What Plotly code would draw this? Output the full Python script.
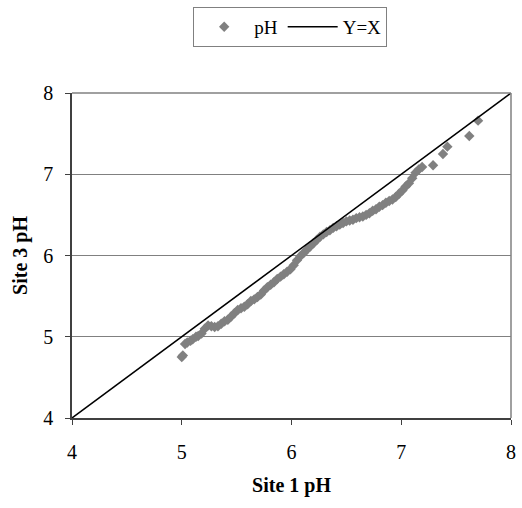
import plotly.graph_objects as go

site1_ph = [5.00, 5.01, 5.03, 5.05, 5.08, 5.10, 5.13, 5.15, 5.18, 5.21, 5.24, 5.27, 5.30, 5.33, 5.36,
            5.39, 5.42, 5.45, 5.48, 5.51, 5.54, 5.57, 5.60, 5.63, 5.66, 5.69, 5.72, 5.75, 5.78, 5.81,
            5.84, 5.87, 5.90, 5.93, 5.96, 5.99, 6.02, 6.05, 6.08, 6.11, 6.14, 6.17, 6.20, 6.23, 6.26,
            6.29, 6.32, 6.35, 6.38, 6.41, 6.44, 6.47, 6.50, 6.53, 6.56, 6.59, 6.62, 6.65, 6.68, 6.71,
            6.74, 6.77, 6.80, 6.83, 6.86, 6.89, 6.92, 6.95, 6.98, 7.01, 7.04, 7.07, 7.10, 7.13, 7.16,
            7.19, 7.29, 7.38, 7.42, 7.62, 7.70]
site3_ph = [4.75, 4.77, 4.91, 4.93, 4.95, 4.97, 5.00, 5.01, 5.04, 5.10, 5.14, 5.13, 5.12, 5.13, 5.16,
            5.19, 5.21, 5.25, 5.29, 5.33, 5.35, 5.37, 5.40, 5.44, 5.46, 5.49, 5.52, 5.57, 5.61, 5.64,
            5.67, 5.71, 5.74, 5.77, 5.80, 5.83, 5.88, 5.94, 5.99, 6.03, 6.07, 6.11, 6.15, 6.19, 6.23,
            6.26, 6.29, 6.31, 6.34, 6.36, 6.38, 6.40, 6.42, 6.43, 6.44, 6.46, 6.47, 6.48, 6.50, 6.52,
            6.55, 6.57, 6.60, 6.62, 6.65, 6.67, 6.69, 6.72, 6.76, 6.80, 6.85, 6.89, 6.95, 7.02, 7.06,
            7.09, 7.11, 7.25, 7.34, 7.47, 7.66]
line_x = [4, 8]
line_y = [4, 8]
ticks = [4, 5, 6, 7, 8]

FONT = "Liberation Serif"

fig = go.Figure()
fig.add_trace(go.Scatter(x=site1_ph, y=site3_ph, mode="markers", name="pH",
                         marker=dict(symbol="diamond", size=8, color="#808080")))
fig.add_trace(go.Scatter(x=line_x, y=line_y, mode="lines", name="Y=X",
                         line=dict(color="black", width=1.5)))

fig.update_layout(
    width=522, height=508,
    margin=dict(l=72, r=6, t=93, b=90),
    paper_bgcolor="white", plot_bgcolor="white",
    font=dict(family=FONT, size=20, color="black"),
    showlegend=True,
    legend=dict(orientation="h", x=0.497, xanchor="center", y=1.265, yanchor="top",
                bordercolor="#808080", borderwidth=1, font=dict(size=19, family=FONT),
                itemwidth=50, tracegroupgap=0),
    xaxis=dict(range=[4, 8], tickvals=ticks, showgrid=False, zeroline=False,
               showline=True, linecolor="#404040", linewidth=1.5,
               ticks="outside", ticklen=5, tickcolor="#404040", ticklabelstandoff=10,
               tickfont=dict(size=20, family=FONT),
               title=dict(text="<b>Site 1 pH</b>", font=dict(size=20, family=FONT), standoff=16)),
    yaxis=dict(range=[4, 8], tickvals=ticks, showgrid=True, gridcolor="#808080", gridwidth=1,
               zeroline=False, showline=True, linecolor="#404040", linewidth=1.5,
               ticks="outside", ticklen=5, tickcolor="#404040", ticklabelstandoff=8,
               tickfont=dict(size=20, family=FONT),
               title=dict(text="<b>Site 3 pH</b>", font=dict(size=20, family=FONT), standoff=10)),
)
fig.add_shape(type="line", xref="paper", yref="paper", x0=0, x1=1, y0=1, y1=1,
              line=dict(color="#808080", width=1.5))
fig.add_shape(type="line", xref="paper", yref="paper", x0=1, x1=1, y0=0, y1=1,
              line=dict(color="#808080", width=1.5))

fig.write_html("out.html")
